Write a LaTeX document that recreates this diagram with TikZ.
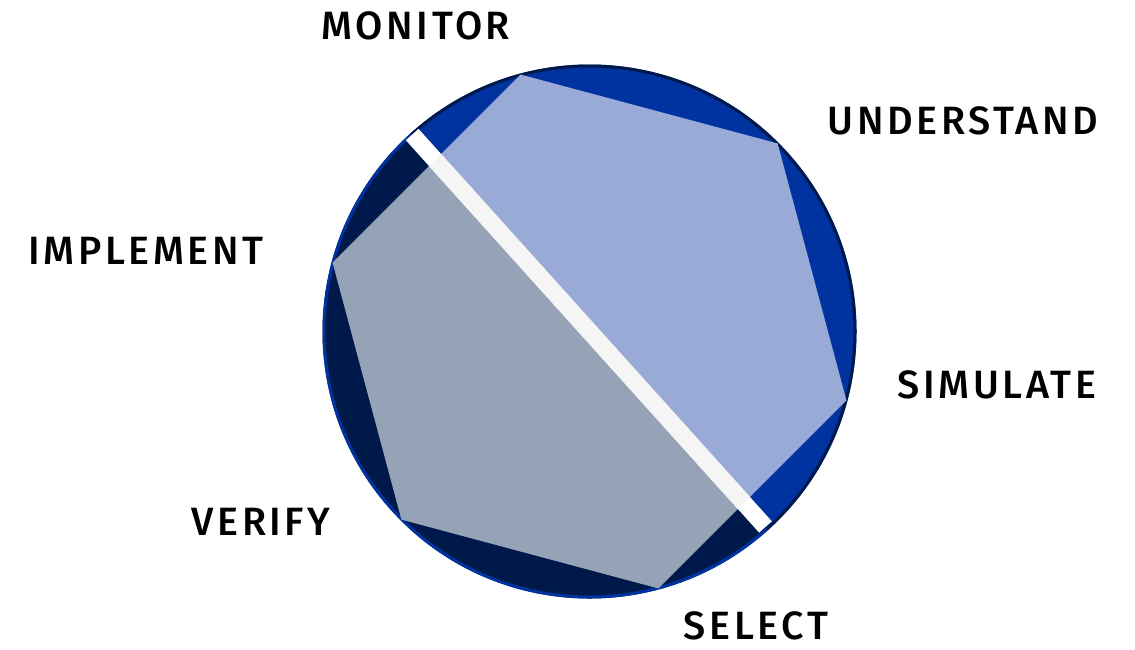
\documentclass[tikz,border=0pt]{standalone}
\usepackage{fontspec}
\newfontfamily\labfont{Fira Sans Medium}[LetterSpace=9]
\definecolor{blueC}{HTML}{0033A0}
\definecolor{navyC}{HTML}{00194B}
\definecolor{lightUp}{HTML}{98AAD5}
\definecolor{lightDn}{HTML}{96A2B6}
\definecolor{bandIn}{HTML}{F5F5F5}
\tikzset{
  lab/.style={font=\labfont\fontsize{39.5}{44}\selectfont, text=black, inner sep=0pt, text depth=0pt},
}
\begin{document}
\begin{tikzpicture}[x=1pt,y=-1pt]
\useasboundingbox (0,0) rectangle (1135,649);
\coordinate (C) at (589.5,331.5);
\def\R{267}
\def\Rh{266}
% circle halves
\fill[blueC] ([shift={(C)}]228:\R) arc[start angle=228,end angle=408,radius=\R] -- cycle;
\fill[navyC] ([shift={(C)}]48:\R) arc[start angle=48,end angle=228,radius=\R] -- cycle;
\draw[navyC,line width=3] ([shift={(C)}]228:265.5) arc[start angle=228,end angle=408,radius=265.5];
\draw[blueC,line width=3] ([shift={(C)}]48:265.5) arc[start angle=48,end angle=228,radius=265.5];
% hexagon vertices
\coordinate (V1) at ([shift={(C)}]255:\Rh);
\coordinate (V2) at ([shift={(C)}]315:\Rh);
\coordinate (V3) at ([shift={(C)}]15:\Rh);
\coordinate (V4) at ([shift={(C)}]75:\Rh);
\coordinate (V5) at ([shift={(C)}]135:\Rh);
\coordinate (V6) at ([shift={(C)}]195:\Rh);
\begin{scope}
\clip ([shift={(C)}]228:300) arc[start angle=228,end angle=408,radius=300] -- cycle;
\fill[lightUp] (V1) -- (V2) -- (V3) -- (V4) -- (V5) -- (V6) -- cycle;
\end{scope}
\begin{scope}
\clip ([shift={(C)}]48:300) arc[start angle=48,end angle=228,radius=300] -- cycle;
\fill[lightDn] (V1) -- (V2) -- (V3) -- (V4) -- (V5) -- (V6) -- cycle;
\end{scope}
% band
\coordinate (B1) at ([shift={(C)}]228:265);
\coordinate (B2) at ([shift={(C)}]48:263);
\draw[white,line width=17] (B1) -- (B2);
\begin{scope}
\clip (V1) -- (V2) -- (V3) -- (V4) -- (V5) -- (V6) -- cycle;
\draw[bandIn,line width=17] (B1) -- (B2);
\end{scope}
% labels
\node[lab] (monitor) at (416,26) {MONITOR};
\node[lab] (understand) at (963,121) {UNDERSTAND};
\node[lab] (implement) at (146,251) {IMPLEMENT};
\node[lab] (simulate) at (997,385) {SIMULATE};
\node[lab] (verify) at (261,522) {VERIFY};
\node[lab] (select) at (756,626) {SELECT};
\end{tikzpicture}
\end{document}
